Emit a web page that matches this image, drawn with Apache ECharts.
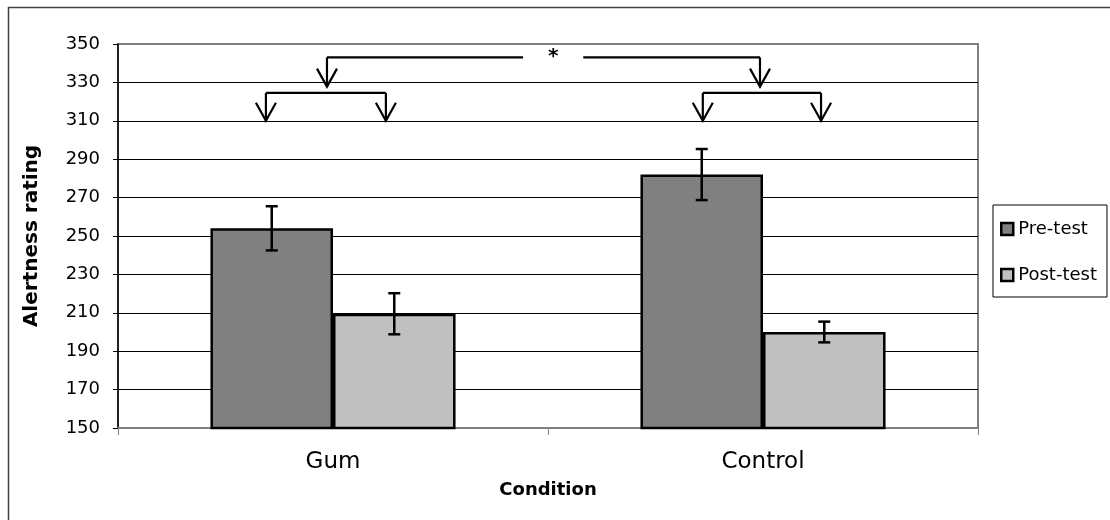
<!DOCTYPE html>
<html>
<head>
<meta charset="utf-8">
<script src="https://cdn.jsdelivr.net/npm/echarts@6/dist/echarts.min.js"></script>
<style>
  html, body { margin: 0; padding: 0; background: #fff; }
  #chart { width: 1110px; height: 520px; }
</style>
</head>
<body>
<div id="chart"></div>
<script>
// Alertness ratings before and after the test, by condition
const categories = ['Gum', 'Control'];
const seriesNames = ['Pre-test', 'Post-test'];
const preTest = [254, 282];
const postTest = [209.5, 200];
const preErr = [11.5, 13.3];
const postErr = [10.7, 5.4];
const yMin = 150, yMax = 350, yStep = 20;

const FONT = 'DejaVu Sans';
const CAT_GAP = 0.43;            // share of each category left empty
const BAR_FRAC = (1 - CAT_GAP) / 2;

const chart = echarts.init(document.getElementById('chart'), null, { renderer: 'canvas' });

function errorBars(values, errs, side) {
  return {
    type: 'custom',
    z: 5,
    silent: true,
    data: values.map((v, i) => [i, v, errs[i]]),
    encode: { x: 0, y: 1 },
    renderItem: function (params, api) {
      const band = api.size([1, 0])[0];
      const dx = side * band * BAR_FRAC / 2;
      const v = api.value(1), e = api.value(2);
      const hi = api.coord([api.value(0), v + e]);
      const lo = api.coord([api.value(0), v - e]);
      const x = hi[0] + dx;
      const cap = 6;
      const style = { stroke: '#000', lineWidth: 2.5 };
      return {
        type: 'group',
        children: [
          { type: 'line', shape: { x1: x, y1: hi[1], x2: x, y2: lo[1] }, style },
          { type: 'line', shape: { x1: x - cap, y1: hi[1], x2: x + cap, y2: hi[1] }, style },
          { type: 'line', shape: { x1: x - cap, y1: lo[1], x2: x + cap, y2: lo[1] }, style }
        ]
      };
    }
  };
}

chart.setOption({
  animation: false,
  backgroundColor: '#fff',
  textStyle: { fontFamily: FONT },
  grid: {
    left: 118, top: 44, width: 860, height: 384,
    show: true, borderColor: '#808080', borderWidth: 2, backgroundColor: 'transparent'
  },
  legend: {
    data: seriesNames,
    orient: 'vertical',
    left: 993, top: 205,
    padding: [15, 10, 13, 7],
    itemGap: 28,
    itemWidth: 12, itemHeight: 12,
    icon: 'rect',
    borderColor: '#000', borderWidth: 1,
    itemStyle: { borderWidth: 2.5, borderColor: '#000' },
    textStyle: { fontFamily: FONT, fontSize: 18, color: '#000' },
    selectedMode: false
  },
  xAxis: {
    type: 'category',
    data: categories,
    name: 'Condition',
    nameLocation: 'middle',
    nameGap: 53,
    nameTextStyle: { fontFamily: FONT, fontSize: 18, fontWeight: 'bold', color: '#000' },
    axisLine: { lineStyle: { color: '#808080', width: 2 } },
    axisTick: { show: true, length: 7, lineStyle: { color: '#808080', width: 1 } },
    axisLabel: { fontFamily: FONT, fontSize: 23, color: '#000', margin: 23 }
  },
  yAxis: {
    type: 'value',
    min: yMin, max: yMax, interval: yStep,
    name: 'Alertness rating',
    nameLocation: 'middle',
    nameGap: 76,
    nameRotate: 90,
    nameTextStyle: { fontFamily: FONT, fontSize: 20, fontWeight: 'bold', color: '#000' },
    axisLine: { show: true, lineStyle: { color: '#000', width: 1.5 } },
    axisTick: { show: true, length: 5, lineStyle: { color: '#000' } },
    axisLabel: { fontFamily: FONT, fontSize: 18, color: '#000', margin: 18 },
    splitLine: { show: true, showMaxLine: false, lineStyle: { color: '#000', width: 1 } }
  },
  series: [
    {
      name: seriesNames[0], type: 'bar', data: preTest,
      barGap: '0%', barCategoryGap: (CAT_GAP * 100) + '%',
      itemStyle: { color: '#808080', borderColor: '#000', borderWidth: 2.5 }
    },
    {
      name: seriesNames[1], type: 'bar', data: postTest,
      barGap: '0%', barCategoryGap: (CAT_GAP * 100) + '%',
      itemStyle: { color: '#c0c0c0', borderColor: '#000', borderWidth: 2.5 }
    },
    errorBars(preTest, preErr, -1),
    errorBars(postTest, postErr, 1)
  ]
});

// Comparison brackets: x in category units (0 = Gum centre, 1 = Control centre), y in rating units
const brackets = [
  { from: -0.156, to: 0.123, level: 324.5, tip: 310 },
  { from: 0.860, to: 1.135, level: 324.5, tip: 310 },
  { from: -0.014, to: 0.993, level: 343, tip: 327.8, mark: '*', markAt: 0.512, markGap: 0.07 }
];

function drawBrackets() {
  const c0 = chart.convertToPixel({ xAxisIndex: 0 }, categories[0]);
  const c1 = chart.convertToPixel({ xAxisIndex: 0 }, categories[1]);
  const band = c1 - c0;
  const px = u => c0 + u * band;
  const py = v => chart.convertToPixel({ yAxisIndex: 0 }, v);
  const style = { stroke: '#000', lineWidth: 2.2, fill: null };
  const els = [];
  brackets.forEach(b => {
    const x1 = px(b.from), x2 = px(b.to), y = py(b.level), t = py(b.tip);
    if (b.mark) {
      const m = px(b.markAt), g = b.markGap * band;
      els.push({ type: 'polyline', shape: { points: [[x1, y], [m - g, y]] }, style });
      els.push({ type: 'polyline', shape: { points: [[m + g, y], [x2, y]] }, style });
      els.push({
        type: 'text', x: m, y: y - 1,
        style: { text: b.mark, font: 'bold 20px "DejaVu Sans"', fill: '#000', align: 'center', verticalAlign: 'middle' }
      });
    } else {
      els.push({ type: 'polyline', shape: { points: [[x1, y], [x2, y]] }, style });
    }
    [x1, x2].forEach(x => {
      els.push({ type: 'polyline', shape: { points: [[x, y], [x, t]] }, style });
      els.push({ type: 'polyline', shape: { points: [[x - 10, t - 18], [x, t], [x + 10, t - 18]] }, style });
    });
  });
  // outer chart frame
  els.push({
    type: 'rect', shape: { x: 8.5, y: 7.5, width: 1200, height: 600 },
    style: { stroke: '#404040', lineWidth: 1.5, fill: null }, z: 0
  });
  chart.setOption({ graphic: els });
}
drawBrackets();
</script>
</body>
</html>
